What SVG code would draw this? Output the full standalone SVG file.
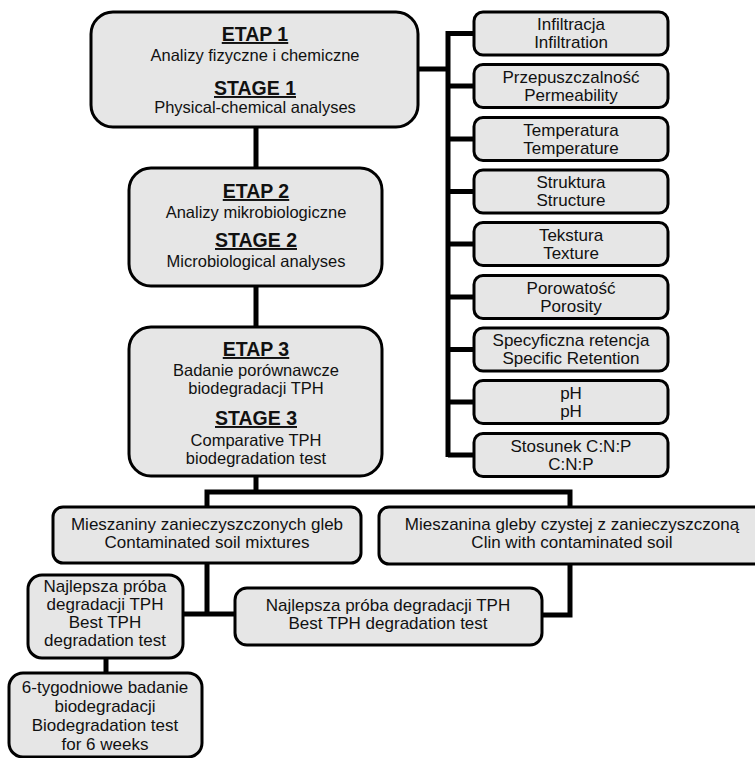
<svg xmlns="http://www.w3.org/2000/svg" width="755" height="758" viewBox="0 0 755 758">
<style>
.box{fill:#e6e6e6;stroke:#000;stroke-width:3}
.t{font-family:"Liberation Sans",Arial,sans-serif;font-size:17px;fill:#111;text-anchor:middle}
.m{font-size:16.5px}
.h{font-family:"Liberation Sans",Arial,sans-serif;font-size:19.5px;font-weight:bold;fill:#111;text-anchor:middle;text-decoration:underline}
.c{fill:none;stroke:#000;stroke-width:5}
</style>
<rect width="755" height="758" fill="#fff"/>
<g id="connectors">
<path class="c" d="M256 127V168M256 286V327"/>
<path class="c" d="M418 69H448M448 31V457"/>
<path class="c" d="M448 33.5H474M448 86H474M448 139H474M448 191.5H474M448 244H474M448 297H474M448 349.5H474M448 402H474M448 455H474"/>
<path class="c" d="M256 476V492M207 507V492H570V507"/>
<path class="c" d="M207 563V614M183 614H235"/>
<path class="c" d="M570 564V615H542"/>
<path class="c" d="M106 658V673"/>
</g>
<g id="etap1">
<rect class="box" x="91" y="12" width="327" height="115" rx="22"/>
<text class="h" x="255" y="41">ETAP 1</text>
<text class="t m" x="255" y="61">Analizy fizyczne i chemiczne</text>
<text class="h" x="255" y="95">STAGE 1</text>
<text class="t m" x="255" y="113">Physical-chemical analyses</text>
</g>
<g id="etap2">
<rect class="box" x="129" y="168" width="253" height="118" rx="22"/>
<text class="h" x="256" y="198">ETAP 2</text>
<text class="t m" x="256" y="218">Analizy mikrobiologiczne</text>
<text class="h" x="256" y="247">STAGE 2</text>
<text class="t m" x="256" y="267">Microbiological analyses</text>
</g>
<g id="etap3">
<rect class="box" x="129" y="327" width="253" height="149" rx="22"/>
<text class="h" x="256" y="356">ETAP 3</text>
<text class="t m" x="256" y="376">Badanie porównawcze</text>
<text class="t m" x="256" y="394">biodegradacji TPH</text>
<text class="h" x="256" y="425">STAGE 3</text>
<text class="t m" x="256" y="446">Comparative TPH</text>
<text class="t m" x="256" y="464">biodegradation test</text>
</g>
<g id="p1"><rect class="box" x="474" y="12" width="194" height="43" rx="9"/><text class="t" x="571" y="30">Infiltracja</text><text class="t" x="571" y="48">Infiltration</text></g>
<g id="p2"><rect class="box" x="474" y="64.5" width="194" height="43" rx="9"/><text class="t" x="571" y="82.5">Przepuszczalność</text><text class="t" x="571" y="100.5">Permeability</text></g>
<g id="p3"><rect class="box" x="474" y="117.5" width="194" height="43" rx="9"/><text class="t" x="571" y="135.5">Temperatura</text><text class="t" x="571" y="153.5">Temperature</text></g>
<g id="p4"><rect class="box" x="474" y="170" width="194" height="43" rx="9"/><text class="t" x="571" y="188">Struktura</text><text class="t" x="571" y="206">Structure</text></g>
<g id="p5"><rect class="box" x="474" y="222.5" width="194" height="43" rx="9"/><text class="t" x="571" y="240.5">Tekstura</text><text class="t" x="571" y="258.5">Texture</text></g>
<g id="p6"><rect class="box" x="474" y="275.5" width="194" height="43" rx="9"/><text class="t" x="571" y="293.5">Porowatość</text><text class="t" x="571" y="311.5">Porosity</text></g>
<g id="p7"><rect class="box" x="474" y="328" width="194" height="43" rx="9"/><text class="t" x="571" y="346">Specyficzna retencja</text><text class="t" x="571" y="364">Specific Retention</text></g>
<g id="p8"><rect class="box" x="474" y="380.5" width="194" height="43" rx="9"/><text class="t" x="571" y="398.5">pH</text><text class="t" x="571" y="416.5">pH</text></g>
<g id="p9"><rect class="box" x="474" y="433.5" width="194" height="43" rx="9"/><text class="t" x="571" y="451.5">Stosunek C:N:P</text><text class="t" x="571" y="469.5">C:N:P</text></g>
<g id="mix1">
<rect class="box" x="53" y="507" width="308" height="56" rx="10"/>
<text class="t" x="207" y="530">Mieszaniny zanieczyszczonych gleb</text>
<text class="t" x="207" y="548">Contaminated soil mixtures</text>
</g>
<g id="mix2">
<rect class="box" x="379" y="507" width="386" height="57" rx="10"/>
<text class="t" x="572" y="530">Mieszanina gleby czystej z zanieczyszczoną</text>
<text class="t" x="572" y="548">Clin with contaminated soil</text>
</g>
<g id="best1">
<rect class="box" x="28" y="575" width="155" height="83" rx="14"/>
<text class="t" x="105" y="592">Najlepsza próba</text>
<text class="t" x="105" y="610">degradacji TPH</text>
<text class="t" x="105" y="628">Best TPH</text>
<text class="t" x="105" y="646">degradation test</text>
</g>
<g id="best2">
<rect class="box" x="235" y="588" width="307" height="57" rx="12"/>
<text class="t" x="388" y="611">Najlepsza próba degradacji TPH</text>
<text class="t" x="388" y="629">Best TPH degradation test</text>
</g>
<g id="weeks">
<rect class="box" x="9" y="673" width="193" height="84" rx="14"/>
<text class="t" x="105" y="693">6-tygodniowe badanie</text>
<text class="t" x="105" y="712">biodegradacji</text>
<text class="t" x="105" y="731">Biodegradation test</text>
<text class="t" x="105" y="750">for 6 weeks</text>
</g>
</svg>
